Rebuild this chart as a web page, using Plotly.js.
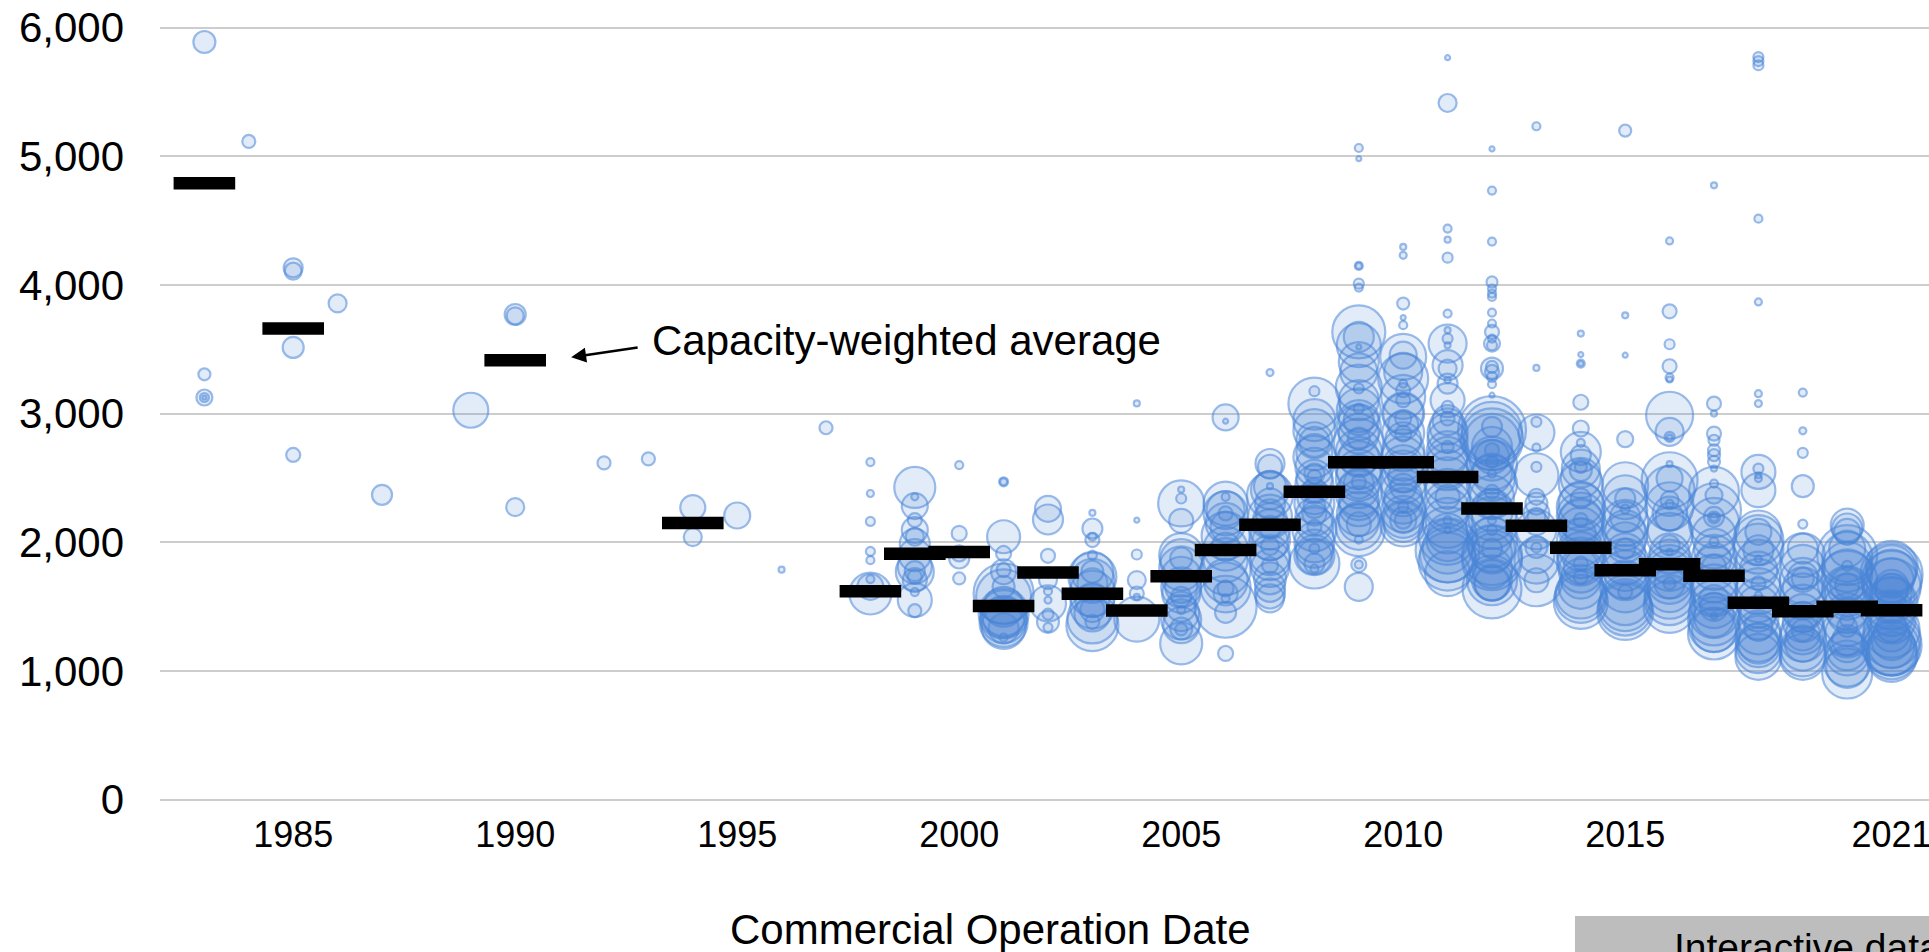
<!DOCTYPE html>
<html>
<head>
<meta charset="utf-8">
<script src="https://cdn.plot.ly/plotly-3.0.1.min.js"></script>
<style>html,body{margin:0;padding:0;background:#fff;overflow:hidden;width:1929px;height:952px}</style>
</head>
<body>
<div id="chart" style="width:1969px;height:952px"></div>
<script>
// Capacity-weighted averages
const avgYears = [1983,1985,1990,1994,1998,1999,2000,2001,2002,2003,2004,2005,2006,2007,2008,2009,2010,2011,2012,2013,2014,2015,2016,2017,2018,2019,2020,2021];
const avgValues = [4790,3662,3414,2150,1620,1910,1925,1505,1766,1600,1470,1735,1940,2137,2393,2622,2622,2508,2263,2129,1958,1782,1830,1740,1530,1464,1498,1472];

// Individual projects: value and bubble diameter, one pair of lists per year
const v1983=[5888,3305,3125,3125,3125], c1983=[22,12,16,9,4];
const v1984=[5115], c1984=[13];
const v1985=[4133,4107,3514,2679], c1985=[19,17,21,14];
const v1986=[3856], c1986=[18];
const v1987=[2369], c1987=[20];
const v1989=[3026], c1989=[35];
const v1990=[3770,3760,2273], c1990=[21,17,18];
const v1992=[2617], c1992=[13];
const v1993=[2648], c1993=[13];
const v1994=[2270,2040], c1994=[25,18];
const v1995=[2208], c1995=[26];
const v1996=[1787], c1996=[6];
const v1997=[2890], c1997=[13];
const v1998=[2623,2379,2162,1929,1861,1714,1654,1602], c1998=[8,7,9,9,8,8,26,42];
const v1999=[2426,2353,2281,2172,2095,2043,1990,1900,1810,1776,1771,1732,1706,1613,1551,1468], c1999=[41,7,26,14,26,18,30,32,34,20,38,14,24,8,34,13];
const v2000=[2600,2069,1913,1874,1719], c2000=[8,15,16,20,12];
const v2001=[2470,2470,2043,1913,1784,1771,1654,1602,1576,1499,1450,1447,1421,1395,1374,1343,1330,1260], c2001=[9,7,33,15,14,25,22,60,55,40,46,50,42,46,48,44,30,8];
const v2002=[2260,2177,1895,1706,1620,1551,1525,1442,1382,1338], c2002=[26,30,14,18,8,7,36,11,22,9];
const v2003=[2229,2107,2043,2017,1900,1771,1763,1732,1700,1680,1602,1600,1551,1500,1473,1447,1408,1382,1356], c2003=[6,20,8,14,9,22,42,48,44,30,12,46,34,44,24,36,50,14,52];
const v2004=[3079,2172,1905,1706,1602,1576,1403], c2004=[6,5,10,18,14,6,45];
const v2005=[2410,2340,2302,2167,1900,1874,1861,1797,1732,1654,1650,1600,1576,1500,1473,1450,1400,1356,1330,1323,1214], c2005=[6,10,46,24,44,22,42,44,40,32,40,38,20,30,8,36,40,36,22,12,42];
const v2006=[2970,2941,2353,2300,2250,2224,2224,2150,2120,2050,1965,1950,1861,1784,1700,1650,1641,1602,1564,1499,1455,1136], c2006=[26,5,8,44,38,44,14,40,30,48,28,44,44,50,44,50,16,24,8,62,21,15];
const v2007=[3319,2612,2587,2436,2431,2405,2366,2302,2224,2200,2172,2120,2100,2017,2000,1970,1900,1861,1822,1800,1720,1654,1602,1564], c2007=[7,29,24,6,32,38,46,30,28,44,34,22,40,40,36,18,40,40,16,38,32,30,30,28];
const v2008=[3174,3078,2949,2871,2793,2780,2700,2664,2586,2534,2508,2500,2450,2405,2350,2300,2275,2223,2200,2146,2120,2100,2000,1951,1950,1900,1887,1835,1835,1796], c2008=[10,52,42,42,36,30,36,42,38,20,14,36,38,24,34,40,22,24,38,36,14,44,40,10,38,40,35,50,20,8];
const v2009=[5064,4981,4148,4148,4010,3979,3635,3596,3531,3518,3400,3324,3202,3195,3104,3039,3026,2950,2949,2900,2845,2806,2767,2700,2664,2600,2550,2500,2469,2456,2420,2379,2327,2280,2220,2159,2140,2120,2094,2021,1827,1827,1654], c2009=[8,5,8,6,10,8,53,30,44,5,40,37,46,10,40,10,44,40,30,44,40,22,50,46,40,48,44,46,14,30,40,46,40,40,44,40,24,46,52,8,15,8,28];
const v2010=[4295,4230,3855,3746,3687,3454,3441,3324,3272,3233,3182,3130,3104,3000,3000,2962,2910,2850,2845,2793,2715,2650,2600,2550,2508,2480,2431,2400,2350,2300,2275,2250,2197,2172,2172,2159,2146], c2010=[6,7,12,5,8,27,46,38,50,8,14,44,14,40,42,16,30,42,16,36,42,44,40,42,30,46,26,44,38,40,10,44,42,17,26,40,46];
const v2011=[5766,5414,4438,4352,4212,3777,3648,3583,3544,3531,3376,3350,3259,3233,3104,3052,2962,2949,2900,2850,2793,2741,2700,2664,2600,2560,2482,2400,2353,2300,2250,2172,2150,2094,2068,2050,2016,1951,1938,1900,1850,1757], c2011=[5,18,8,6,10,8,6,10,38,6,30,18,6,20,34,12,14,30,36,40,40,12,42,40,44,40,46,44,24,46,44,8,50,6,40,58,42,50,64,55,58,45];
const v2012=[5057,4733,4337,4023,3971,3933,3907,3785,3700,3635,3583,3544,3531,3363,3350,3324,3285,3228,3143,2897,2871,2858,2800,2780,2741,2715,2664,2650,2625,2600,2534,2534,2500,2450,2392,2350,2301,2250,2200,2172,2150,2094,2042,2000,1951,1950,1913,1900,1861,1800,1705,1705,1685,1680,1638], c2012=[5,8,8,11,8,8,8,8,8,14,8,16,10,12,22,14,10,8,5,20,68,60,62,56,40,14,34,44,12,50,8,40,46,50,14,44,30,42,48,8,52,10,40,50,20,46,40,60,60,40,50,40,36,34,59];
const v2013=[5233,3355,2936,2853,2736,2586,2521,2353,2301,2223,2197,2150,2100,1964,1959,1900,1850,1705,1705], c2013=[8,6,10,36,8,10,44,16,22,26,18,24,40,22,10,36,44,24,52];
const v2014=[3622,3459,3389,3389,3088,2884,2772,2702,2677,2586,2573,2560,2500,2450,2340,2301,2275,2200,2172,2172,2150,2100,2068,2000,1950,1900,1850,1835,1809,1780,1731,1718,1654,1602,1576,1537], c2014=[6,5,8,5,15,16,8,40,20,12,38,22,40,44,20,44,48,48,14,44,46,44,30,48,44,46,48,14,34,44,14,40,44,50,52,54];
const v2015=[5199,3764,3454,2801,2443,2350,2340,2257,2250,2197,2150,2094,2050,2000,1951,1913,1850,1800,1750,1705,1650,1615,1550,1511,1485,1459], c2015=[12,6,5,16,46,44,20,9,44,30,46,40,44,40,20,40,46,46,48,40,50,14,50,52,54,56];
const v2016=[4342,3795,3539,3368,3280,3265,2987,2858,2819,2814,2607,2495,2482,2400,2327,2301,2280,2223,2197,2100,2050,1977,1925,1913,1850,1800,1750,1700,1680,1680,1628,1600,1550,1498], c2016=[7,14,10,14,8,6,47,28,10,6,6,26,56,50,18,8,48,34,28,44,46,20,6,40,44,46,48,46,12,30,44,50,50,52];
const v2017=[4774,3078,3000,2845,2793,2715,2677,2625,2573,2456,2392,2366,2249,2198,2192,2192,2150,2050,2003,1950,1887,1861,1809,1800,1720,1650,1600,1550,1520,1498,1450,1426,1420,1400,1343,1317,1291], c2017=[6,14,6,14,11,12,12,12,6,8,50,17,54,20,12,8,50,44,9,40,44,34,24,44,48,46,46,30,48,28,50,6,40,52,50,44,52];
const v2018=[5771,5740,5707,4515,3868,3155,3078,2573,2547,2521,2495,2405,2081,2068,2016,1950,1938,1869,1850,1780,1700,1680,1620,1589,1550,1500,1446,1400,1343,1300,1250,1213,1200,1161,1110], c2018=[10,10,10,8,7,7,7,10,34,6,7,34,26,46,50,50,30,7,44,38,44,14,46,7,44,42,36,40,28,44,46,40,44,46,46];
const v2019=[3163,2866,2695,2436,2141,1951,1900,1809,1731,1718,1700,1650,1580,1500,1450,1420,1380,1317,1300,1291,1250,1213,1174,1136,1110], c2019=[8,7,10,22,9,30,44,44,30,22,46,40,46,44,38,30,40,22,44,34,46,36,44,46,46];
const v2020=[2133,2107,2081,1950,1900,1887,1817,1809,1750,1700,1666,1666,1654,1620,1576,1500,1450,1395,1380,1343,1300,1291,1239,1200,1161,1136,1058,1032,980], c2020=[33,30,26,36,60,50,10,50,50,60,24,34,40,50,46,46,40,14,48,20,50,44,30,34,40,44,46,42,50];
const v2021=[1809,1783,1757,1750,1705,1700,1654,1650,1628,1602,1550,1524,1498,1450,1400,1343,1320,1291,1250,1239,1200,1200,1180,1161,1136,1110], c2021=[52,50,48,62,44,60,34,58,32,40,46,52,30,46,48,30,56,36,58,40,46,60,56,50,52,50];

const groups = [
 [1983,v1983,c1983],[1984,v1984,c1984],[1985,v1985,c1985],[1986,v1986,c1986],[1987,v1987,c1987],
 [1989,v1989,c1989],[1990,v1990,c1990],[1992,v1992,c1992],[1993,v1993,c1993],[1994,v1994,c1994],
 [1995,v1995,c1995],[1996,v1996,c1996],[1997,v1997,c1997],[1998,v1998,c1998],[1999,v1999,c1999],
 [2000,v2000,c2000],[2001,v2001,c2001],[2002,v2002,c2002],[2003,v2003,c2003],[2004,v2004,c2004],
 [2005,v2005,c2005],[2006,v2006,c2006],[2007,v2007,c2007],[2008,v2008,c2008],[2009,v2009,c2009],
 [2010,v2010,c2010],[2011,v2011,c2011],[2012,v2012,c2012],[2013,v2013,c2013],[2014,v2014,c2014],
 [2015,v2015,c2015],[2016,v2016,c2016],[2017,v2017,c2017],[2018,v2018,c2018],[2019,v2019,c2019],
 [2020,v2020,c2020],[2021,v2021,c2021]
];
const tickYears = [1985,1990,1995,2000,2005,2010,2015,2021];
const tickValues = [0,1000,2000,3000,4000,5000,6000];

const px=[],py=[],ps=[];
groups.forEach(([yr,vals,caps])=>vals.forEach((v,i)=>{px.push(yr);py.push(v);ps.push(caps[i]);}));

const font='"Liberation Sans", Arial, sans-serif';
const traces=[
 {type:'scatter',mode:'markers',x:px,y:py,name:'Projects',showlegend:false,hoverinfo:'x+y',
  marker:{size:ps,sizemode:'diameter',color:'rgba(74,134,216,0.22)',line:{color:'rgba(74,134,216,0.8)',width:2.2}}},
 {type:'scatter',mode:'markers',x:avgYears,y:avgValues,name:'Capacity-weighted average',showlegend:false,hoverinfo:'x+y',
  marker:{symbol:'line-ew',size:44,color:'#000',line:{color:'#000',width:12.5}}}
];
const W=1969,H=952,L=160,T=24.9,B=152.1;
const pw=W-L, ph=H-T-B;
const layout={
 width:W,height:H,paper_bgcolor:'#fff',plot_bgcolor:'#fff',showlegend:false,
 margin:{l:L,r:0,t:T,b:B,pad:0},
 font:{family:font,color:'#000'},
 xaxis:{range:[1982,1982+pw/44.4],tickmode:'array',tickvals:tickYears,ticktext:tickYears.map(String),showgrid:false,zeroline:false,showline:false,ticks:'',tickfont:{size:36,family:font,color:'#000'},ticklabelstandoff:10},
 yaxis:{range:[-3,6020],tickmode:'array',tickvals:tickValues,ticktext:tickValues.map(v=>v.toLocaleString('en-US')),showgrid:true,gridcolor:'#cdcdcd',gridwidth:2,zeroline:true,zerolinecolor:'#cdcdcd',zerolinewidth:2,showline:false,ticks:'',tickfont:{size:42,family:font,color:'#000'},ticklabelstandoff:35},
 shapes:[{type:'rect',xref:'paper',yref:'paper',x0:(1575-L)/pw,x1:1,y0:-(H+4-T-ph)/ph,y1:-(916-T-ph)/ph,fillcolor:'#bdbdbd',line:{width:0},layer:'above'}],
 annotations:[
  {xref:'x',yref:'y',x:1991.26,y:3438,ax:68,ay:-10,axref:'pixel',ayref:'pixel',text:'',showarrow:true,arrowhead:2,arrowsize:1.2,arrowwidth:2.5,arrowcolor:'#000'},
  {xref:'paper',yref:'y',x:(650-L)/pw,y:3570,xanchor:'left',yanchor:'middle',text:'Capacity-weighted average',showarrow:false,font:{size:42,family:font,color:'#000'}},
  {xref:'paper',yref:'paper',x:(990-L)/pw,y:-(929-T-ph)/ph,xanchor:'center',yanchor:'middle',text:'Commercial Operation Date',showarrow:false,font:{size:42,family:font,color:'#000'}},
  {xref:'paper',yref:'paper',x:(1672-L)/pw,y:-(924-T-ph)/ph,xanchor:'left',yanchor:'top',text:'Interactive data',showarrow:false,font:{size:39,family:font,color:'#000'}}
 ]
};
Plotly.newPlot('chart',traces,layout,{displayModeBar:false,responsive:false});
</script>
</body>
</html>
